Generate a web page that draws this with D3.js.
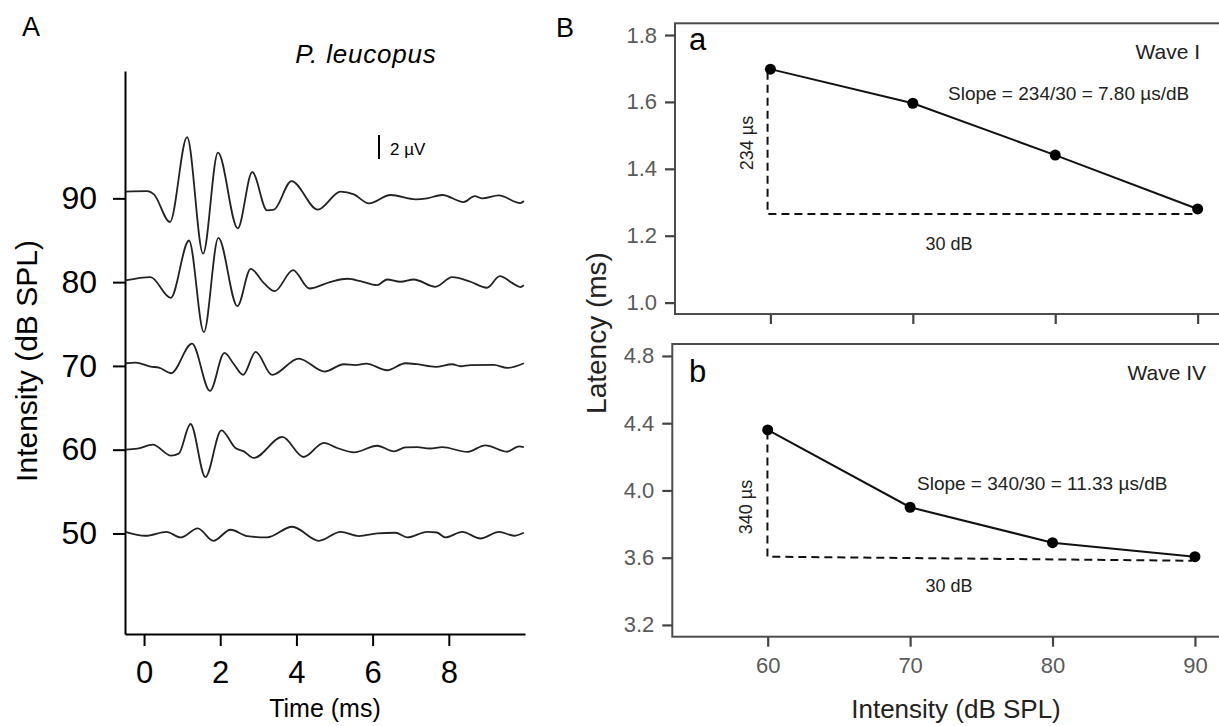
<!DOCTYPE html>
<html>
<head>
<meta charset="utf-8">
<script src="https://cdn.jsdelivr.net/npm/d3@7"></script>
<style>
  body { margin: 0; background: #fff; }
  svg { display: block; }
</style>
</head>
<body>
<svg id="fig"></svg>
<script>
// ---- panel A: ABR traces, [time ms, amplitude uV]
var levels = [90, 80, 70, 60, 50];
var timeTicks = [0, 2, 4, 6, 8];

var trace90 = [[-0.49, 0.56], [0.08, 0.6], [0.26, 0.33], [0.68, -1.97], [1.13, 5.11], [1.55, -4.61],
  [1.94, 3.81], [2.46, -2.5], [2.84, 2.19], [3.23, -1.0], [3.41, -0.94], [3.87, 1.44], [4.56, -0.94],
  [5.16, 0.56], [5.51, 0.33], [5.9, -0.42], [6.47, 0.28], [7.13, -0.08], [7.43, 0.0], [7.83, 0.28],
  [8.39, -0.31], [8.68, 0.19], [8.88, 0.0], [9.31, 0.25], [9.88, -0.39], [9.97, -0.22]];
var trace80 = [[-0.49, 0.14], [0.17, 0.42], [0.70, -1.31], [1.18, 3.47], [1.57, -4.17], [1.95, 3.69],
  [2.45, -2.0], [2.80, 1.11], [3.14, -0.06], [3.43, -0.75], [3.91, 1.0], [4.34, -0.53], [4.9, 0.03],
  [5.34, 0.28], [5.68, 0.08], [6.12, -0.25], [6.38, 0.22], [6.73, 0.03], [7.08, 0.22], [7.65, -0.39],
  [8.09, 0.42], [8.57, 0.03], [9.0, -0.47], [9.34, 0.5], [9.66, -0.06], [9.88, -0.42], [9.97, -0.25]];
var trace70 = [[-0.49, 0.22], [-0.22, 0.28], [0.17, -0.06], [0.39, -0.14], [0.71, -0.61], [1.26, 1.86],
  [1.73, -2.08], [2.11, 1.08], [2.36, 0.14], [2.6, -0.75], [2.93, 1.17], [3.36, -0.75], [4.06, 0.61],
  [4.74, -0.47], [5.24, 0.14], [5.55, 0.06], [5.83, 0.19], [6.38, -0.36], [6.86, 0.22], [7.17, 0.14],
  [7.65, -0.08], [8.09, 0.14], [8.31, -0.03], [8.57, 0.06], [9.18, 0.08], [9.53, -0.17], [9.97, 0.22]];
var trace60 = [[-0.49, 0.0], [-0.18, 0.08], [0.23, 0.42], [0.71, -0.5], [0.91, -0.33], [1.22, 2.14],
  [1.61, -2.28], [2.03, 1.61], [2.4, 0.14], [2.62, -0.14], [2.88, -0.69], [3.63, 1.06], [4.19, -0.61],
  [4.72, 0.56], [5.07, 0.14], [5.51, -0.22], [6.12, 0.33], [6.56, -0.14], [6.86, 0.19], [7.17, 0.22],
  [7.5, 0.1], [7.83, 0.22], [8.48, -0.19], [8.96, 0.36], [9.53, -0.17], [9.84, 0.28], [9.97, 0.22]];
var trace50 = [[-0.49, 0.14], [0.04, -0.19], [0.59, 0.14], [0.96, -0.33], [1.41, 0.42], [1.82, -0.61],
  [2.27, 0.31], [2.71, -0.22], [3.23, -0.33], [3.89, 0.56], [4.59, -0.61], [5.16, 0.14], [5.64, -0.22],
  [6.12, 0.0], [6.6, 0.06], [6.91, -0.33], [7.43, 0.14], [7.69, 0.08], [7.91, -0.33], [8.35, 0.14],
  [8.83, -0.42], [9.32, 0.14], [9.71, -0.19], [9.97, 0.06]];
var traces = [trace90, trace80, trace70, trace60, trace50];

// ---- panel B: latency vs intensity
var intensities = [60, 70, 80, 90];
var latencyWaveI = [1.698, 1.596, 1.441, 1.280];
var latencyWaveIV = [4.36, 3.90, 3.689, 3.606];
var latTicksI = [1.0, 1.2, 1.4, 1.6, 1.8];
var latTicksIV = [3.2, 3.6, 4.0, 4.4, 4.8];
// dashed slope triangles [intensity, latency]
var guideI = [[59.8, 1.69], [59.8, 1.265], [89.8, 1.265]];
var guideIV = [[59.98, 4.35], [59.98, 3.606], [89.8, 3.582]];

var FONT = "'Liberation Sans', Arial, Helvetica, sans-serif";
var svg = d3.select('svg#fig').attr('width', 1219).attr('height', 726)
  .style('font-family', FONT);

// ================= panel A =================
var xA = d3.scaleLinear().domain([-0.5, 10]).range([125, 525]);
var yA = d3.scaleLinear().domain([38, 105.2]).range([634, 71]);
var uv = d3.scaleLinear().domain([0, 1]).range([0, -12]);   // 12 px per microvolt

var axA_y = svg.append('g')
  .attr('transform', 'translate(125,0)')
  .call(d3.axisLeft(yA).tickValues(levels).tickSize(12).tickSizeOuter(0).tickPadding(16));
var axA_x = svg.append('g')
  .attr('transform', 'translate(0,634)')
  .call(d3.axisBottom(xA).tickValues(timeTicks).tickSize(12).tickSizeOuter(0).tickPadding(15));

[axA_y, axA_x].forEach(function(ax) {
  ax.selectAll('path, line').attr('stroke', '#000').attr('stroke-width', 2);
  ax.selectAll('text').attr('fill', '#000').style('font-size', '32px').style('font-family', FONT);
});
axA_x.selectAll('text').style('font-size', '31px');

var traceLine = function(level) {
  return d3.line()
    .x(function(d) { return xA(d[0]); })
    .y(function(d) { return yA(level) + uv(d[1]); })
    .curve(d3.curveMonotoneX);
};

svg.append('g').selectAll('path.trace')
  .data(traces)
  .enter()
  .append('path')
  .classed('trace', true)
  .attr('d', function(d, i) { return traceLine(levels[i])(d); })
  .attr('fill', 'none')
  .attr('stroke', '#222')
  .attr('stroke-width', 1.8)
  .attr('stroke-linejoin', 'round');

// scale bar 2 uV
svg.append('line')
  .attr('x1', 379).attr('x2', 379)
  .attr('y1', 159).attr('y2', 159 + uv(2))
  .attr('stroke', '#000').attr('stroke-width', 2);
svg.append('text').attr('x', 390).attr('y', 155)
  .style('font-size', '17px').text('2 \u00b5V');

svg.append('text').attr('x', 366).attr('y', 63)
  .attr('text-anchor', 'middle')
  .style('font-size', '26px').style('font-style', 'italic')
  .style('letter-spacing', '0.8px')
  .text('P. leucopus');

svg.append('text').attr('x', 325).attr('y', 717)
  .attr('text-anchor', 'middle').style('font-size', '25px')
  .text('Time (ms)');

svg.append('text')
  .attr('transform', 'translate(37,361) rotate(-90)')
  .attr('text-anchor', 'middle').style('font-size', '30px')
  .text('Intensity (dB SPL)');

svg.append('text').attr('x', 22).attr('y', 36).style('font-size', '27px').text('A');
svg.append('text').attr('x', 556).attr('y', 37).style('font-size', '27px').text('B');

// ================= panel B =================
var panels = [
  {
    x: d3.scaleLinear().domain([53.3, 91.5]).range([675, 1219]),
    y: d3.scaleLinear().domain([0.966, 1.835]).range([314, 23.3]),
    ticks: latTicksI, values: latencyWaveI, guide: guideI,
    tag: 'a', wave: 'Wave I', waveX: 1200, tagBase: 50, waveBase: 59,
    tri: '234 \u00b5s', triX: 753, triY: 143,
    slope: 'Slope = 234/30 = 7.80 \u00b5s/dB', slopeX: 948, slopeY: 100,
    dbY: 250, labels: false
  },
  {
    x: d3.scaleLinear().domain([53.3, 91.5]).range([672.3, 1216.3]),
    y: d3.scaleLinear().domain([3.130, 4.871]).range([636.7, 344]),
    ticks: latTicksIV, values: latencyWaveIV, guide: guideIV,
    tag: 'b', wave: 'Wave IV', waveX: 1206, tagBase: 382, waveBase: 380,
    tri: '340 \u00b5s', triX: 752, triY: 507,
    slope: 'Slope = 340/30 = 11.33 \u00b5s/dB', slopeX: 917, slopeY: 490,
    dbY: 592, labels: true
  }
];

panels.forEach(function(p) {
  var x0 = p.x.range()[0], yTop = p.y.range()[1], yBot = p.y.range()[0];
  var g = svg.append('g');

  g.append('rect')
    .attr('x', x0).attr('y', yTop)
    .attr('width', 1230 - x0).attr('height', yBot - yTop)
    .attr('fill', 'none').attr('stroke', '#4d4d4d').attr('stroke-width', 2);

  var ay = g.append('g').attr('transform', 'translate(' + x0 + ',0)')
    .call(d3.axisLeft(p.y).tickValues(p.ticks).tickSize(10).tickPadding(8).tickFormat(d3.format('.1f')));
  var ax = g.append('g').attr('transform', 'translate(0,' + yBot + ')')
    .call(d3.axisBottom(p.x).tickValues(intensities).tickSize(10).tickPadding(11)
      .tickFormat(p.labels ? d3.format('d') : function() { return ''; }));

  [ay, ax].forEach(function(a) {
    a.select('.domain').remove();
    a.selectAll('line').attr('stroke', '#444').attr('stroke-width', 2.2);
    a.selectAll('text').attr('fill', '#5a5a5a').style('font-size', '22px').style('font-family', FONT);
  });

  var lineFn = d3.line()
    .x(function(d) { return p.x(d[0]); })
    .y(function(d) { return p.y(d[1]); });

  g.append('path')
    .attr('d', lineFn(p.guide))
    .attr('fill', 'none').attr('stroke', '#111').attr('stroke-width', 2)
    .attr('stroke-dasharray', '8,5');

  var pts = intensities.map(function(d, i) { return [d, p.values[i]]; });
  g.append('path')
    .attr('d', lineFn(pts))
    .attr('fill', 'none').attr('stroke', '#111').attr('stroke-width', 2);

  g.selectAll('circle')
    .data(pts)
    .enter()
    .append('circle')
    .attr('cx', function(d) { return p.x(d[0]); })
    .attr('cy', function(d) { return p.y(d[1]); })
    .attr('r', 5.5)
    .attr('fill', '#000');

  g.append('text').attr('x', 689).attr('y', p.tagBase).style('font-size', '31px').text(p.tag);
  g.append('text').attr('x', p.waveX).attr('y', p.waveBase)
    .attr('text-anchor', 'end').attr('fill', '#222').style('font-size', '21px').text(p.wave);
  g.append('text')
    .attr('transform', 'translate(' + p.triX + ',' + p.triY + ') rotate(-90)')
    .attr('text-anchor', 'middle').attr('fill', '#222').style('font-size', '18px').text(p.tri);
  g.append('text').attr('x', p.slopeX).attr('y', p.slopeY)
    .attr('fill', '#222').style('font-size', '19px').text(p.slope);
  g.append('text').attr('x', 949).attr('y', p.dbY)
    .attr('text-anchor', 'middle').attr('fill', '#222').style('font-size', '18px').text('30 dB');
});

svg.append('text').attr('x', 956).attr('y', 718)
  .attr('text-anchor', 'middle').attr('fill', '#222').style('font-size', '26px')
  .text('Intensity (dB SPL)');

svg.append('text')
  .attr('transform', 'translate(606,333) rotate(-90)')
  .attr('text-anchor', 'middle').attr('fill', '#222').style('font-size', '28px')
  .text('Latency (ms)');
</script>
</body>
</html>
